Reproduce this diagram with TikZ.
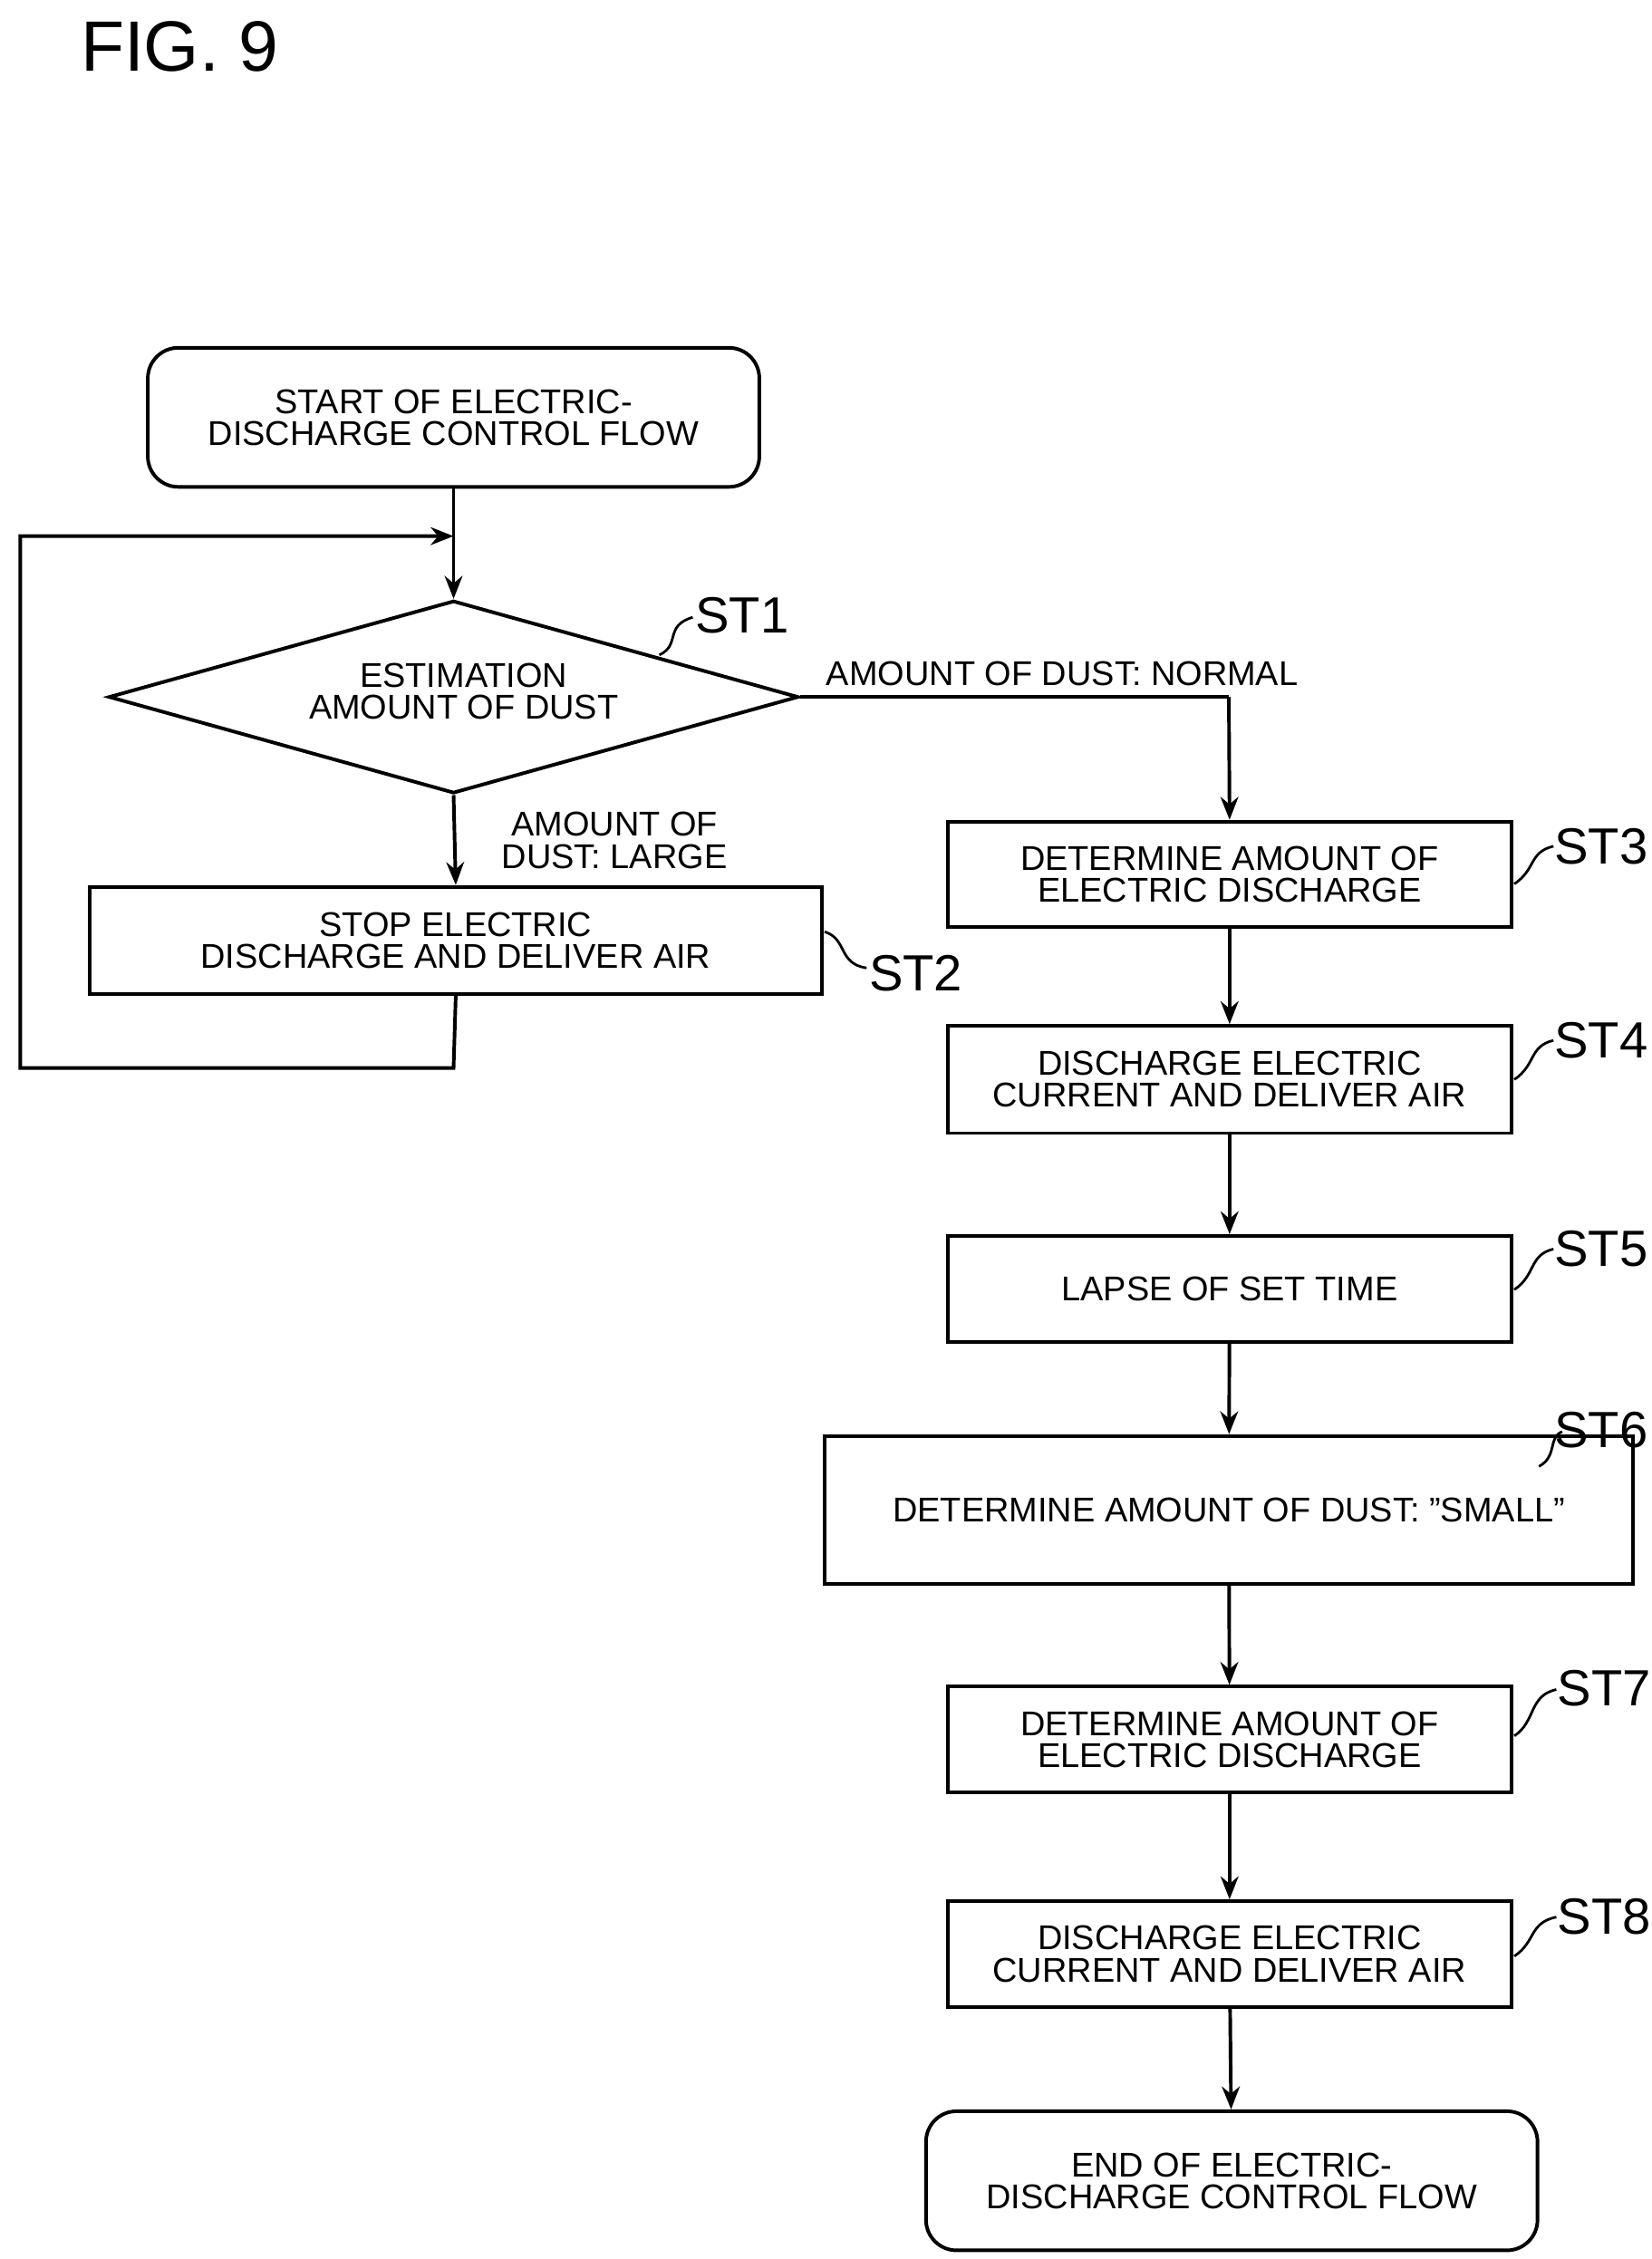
\documentclass[tikz,border=0pt]{standalone}
\usepackage{fontspec}
\setmainfont{Liberation Sans}
\usetikzlibrary{shapes.geometric,arrows.meta}
\begin{document}
\begin{tikzpicture}[x=0.02cm,y=-0.02cm,
  every node/.style={font=\fontsize{13.5}{12.5}\selectfont,align=center,inner sep=0},
  box/.style={draw,line width=1.4pt},
  ln/.style={line width=1.4pt},
  arr/.style={ln,-{Stealth[length=9pt,width=7pt]}},
  st/.style={font=\fontsize{20}{20}\selectfont},
  sq/.style={line width=1pt}]
\useasboundingbox (0,0) rectangle (1140,1559);
\node[font=\fontsize{28}{28}\selectfont] (fig) at (124,32) {FIG. 9};
% boxes
\node[box,rounded corners=12pt,minimum width=422*0.02cm,minimum height=96*0.02cm] (start) at (313,288) {START OF ELECTRIC-\\DISCHARGE CONTROL FLOW};
\node[box,diamond,aspect=3.58,minimum width=476*0.02cm,minimum height=133*0.02cm,inner sep=0] (d) at (313,481) {};
\node (dt) at (320,477) {ESTIMATION\\AMOUNT OF DUST};
\node[box,minimum width=505*0.02cm,minimum height=74*0.02cm] (s2) at (314.5,649) {STOP ELECTRIC\\DISCHARGE AND DELIVER AIR};
\node[box,minimum width=389*0.02cm,minimum height=73*0.02cm] (s3) at (848.5,603.5) {DETERMINE AMOUNT OF\\ELECTRIC DISCHARGE};
\node[box,minimum width=389*0.02cm,minimum height=74*0.02cm] (s4) at (848.5,745) {DISCHARGE ELECTRIC\\CURRENT AND DELIVER AIR};
\node[box,minimum width=389*0.02cm,minimum height=73*0.02cm] (s5) at (848.5,889.5) {LAPSE OF SET TIME};
\node[box,minimum width=558*0.02cm,minimum height=102*0.02cm] (s6) at (848,1042) {DETERMINE AMOUNT OF DUST: "SMALL"};
\node[box,minimum width=389*0.02cm,minimum height=73*0.02cm] (s7) at (848.5,1200.5) {DETERMINE AMOUNT OF\\ELECTRIC DISCHARGE};
\node[box,minimum width=389*0.02cm,minimum height=73*0.02cm] (s8) at (848.5,1348.5) {DISCHARGE ELECTRIC\\CURRENT AND DELIVER AIR};
\node[box,rounded corners=12pt,minimum width=422*0.02cm,minimum height=96*0.02cm] (end) at (850,1505) {END OF ELECTRIC-\\DISCHARGE CONTROL FLOW};
% connectors
\coordinate (j) at (313,370);
\draw[ln] (start.south) -- (j);
\draw[arr] (j) -- (d.north);
\draw[arr] (d.south) -- (s2.north);
\coordinate (c1) at (848,481);
\draw[ln] (d.east) -- (c1);
\draw[arr] (c1) -- (s3.north);
\coordinate (l1) at (313,737); \coordinate (l2) at (14,737); \coordinate (l3) at (14,370);
\draw[arr] (s2.south) -- (l1) -- (l2) -- (l3) -- (j);
\draw[arr] (s3) -- (s4);
\draw[arr] (s4) -- (s5);
\draw[arr] (s5) -- (s6);
\draw[arr] (s6) -- (s7);
\draw[arr] (s7) -- (s8);
\draw[arr] (s8) -- (end);
\node (lbn) at (733,465) {AMOUNT OF DUST: NORMAL};
\node (lbl) at (424,580) {AMOUNT OF\\DUST: LARGE};
% step labels
\node[st] (t1) at (512,425) {ST1};
\draw[sq] (455,452) .. controls (470,445) and (458,432) .. (478,426);
\node[st] (t2) at (632,672) {ST2};
\draw[sq] (569,643) .. controls (585,648) and (578,665) .. (598,668);
\node[st] (t3) at (1105,584) {ST3};
\draw[sq] (1045,610) .. controls (1060,600) and (1055,588) .. (1072,584);
\node[st] (t4) at (1105,718) {ST4};
\draw[sq] (1045,745) .. controls (1060,735) and (1055,722) .. (1072,718);
\node[st] (t5) at (1105,862) {ST5};
\draw[sq] (1045,890) .. controls (1060,880) and (1055,866) .. (1072,862);
\node[st] (t6) at (1105,987) {ST6};
\draw[sq] (1062,1012) .. controls (1075,1005) and (1068,992) .. (1078,988);
\node[st] (t7) at (1107,1165) {ST7};
\draw[sq] (1045,1198) .. controls (1060,1188) and (1055,1170) .. (1074,1166);
\node[st] (t8) at (1107,1323) {ST8};
\draw[sq] (1045,1350) .. controls (1060,1340) and (1055,1327) .. (1074,1323);
\end{tikzpicture}
\end{document}
